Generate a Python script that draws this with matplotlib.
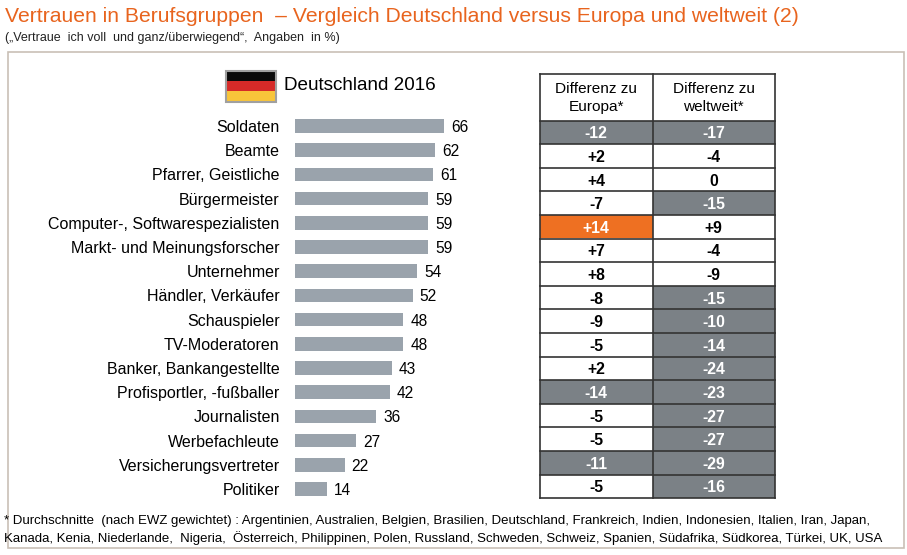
import matplotlib.pyplot as plt
from matplotlib.patches import Rectangle

plt.rcParams['font.family'] = ['Liberation Sans', 'DejaVu Sans']

# data
berufe = ["Soldaten", "Beamte", "Pfarrer, Geistliche", "Bürgermeister",
          "Computer-, Softwarespezialisten", "Markt- und Meinungsforscher",
          "Unternehmer", "Händler, Verkäufer", "Schauspieler", "TV-Moderatoren",
          "Banker, Bankangestellte", "Profisportler, -fußballer", "Journalisten",
          "Werbefachleute", "Versicherungsvertreter", "Politiker"]
vertrauen = [66, 62, 61, 59, 59, 59, 54, 52, 48, 48, 43, 42, 36, 27, 22, 14]
diff_europa = [-12, 2, 4, -7, 14, 7, 8, -8, -9, -5, 2, -14, -5, -5, -11, -5]
diff_welt = [-17, -4, 0, -15, 9, -4, -9, -15, -10, -14, -24, -23, -27, -27, -29, -16]
spalten = ["Differenz zu\nEuropa*", "Differenz zu\nweltweit*"]

W, H = 907, 555
fig = plt.figure(figsize=(W / 100, H / 100), dpi=100)

# overlay axes in pixel coords
bg = fig.add_axes([0, 0, 1, 1])
bg.set_xlim(0, W)
bg.set_ylim(H, 0)
bg.axis('off')

orange = '#E8641E'
bg.text(5, 17, "Vertrauen in Berufsgruppen  – Vergleich Deutschland versus Europa und weltweit (2)",
        fontsize=15.2, color=orange, va='center', ha='left')
bg.text(5, 38, "(„Vertraue  ich voll  und ganz/überwiegend“,  Angaben  in %)",
        fontsize=9.0, color='#222222', va='center', ha='left')
bg.add_patch(Rectangle((8, 52), 896, 496, fill=False, lw=1.2, ec='#C9C0B6'))

# flag
for i, c in enumerate(['#0A0A0A', '#D62A28', '#F8C53A']):
    bg.add_patch(Rectangle((226, 71 + i * 10), 49, 10, fc=c, ec='none'))
bg.add_patch(Rectangle((225.5, 70.5), 50, 31, fill=False, ec='#A0A0A0', lw=1.5))
bg.text(284, 86, "Deutschland 2016", fontsize=13.6, va='center', ha='left')

# bars
top, step = 126, 24.2
n = len(berufe)
ax = fig.add_axes([295 / W, 1 - (top + step * (n - 0.5)) / H, 226 / W, step * n / H])
bars = ax.barh(range(n), vertrauen, height=0.56, color='#9AA3AC')
ax.set_xlim(0, 100)
ax.set_ylim(n - 0.5, -0.5)
ax.set_yticks(range(n))
ax.set_yticklabels(berufe, fontsize=11.5)
ax.tick_params(axis='y', length=0, pad=11)
ax.set_xticks([])
for s in ax.spines.values():
    s.set_visible(False)
for i, v in enumerate(vertrauen):
    ax.annotate(str(v), (v, i), xytext=(5, 0), textcoords='offset points',
                fontsize=11.2, ha='left', va='center_baseline')

# table
tx = [539.5, 653, 774.5]
ty0, head_h, row_h = 73.5, 47, 23.6
for j, name in enumerate(spalten):
    bg.text((tx[j] + tx[j + 1]) / 2, ty0 + head_h / 2 + 1, name, fontsize=11.1,
            ha='center', va='center', linespacing=1.3)
for j, werte in enumerate([diff_europa, diff_welt]):
    for i, v in enumerate(werte):
        y = ty0 + head_h + i * row_h
        if v <= -10:
            fc, tc = '#7B8186', 'white'
        elif v >= 10:
            fc, tc = '#EE7022', 'white'
        else:
            fc, tc = 'white', 'black'
        bg.add_patch(Rectangle((tx[j], y), tx[j + 1] - tx[j], row_h, fc=fc, ec='none'))
        txt = f"+{v}" if v > 0 else str(v)
        bg.text((tx[j] + tx[j + 1]) / 2, y + row_h / 2, txt, fontsize=11.3,
                fontweight='bold', color=tc, ha='center', va='center_baseline')

grid = dict(color='#333333', lw=1.2)
y_end = ty0 + head_h + n * row_h
for x in tx:
    bg.plot([x, x], [ty0, y_end], **grid)
bg.plot([tx[0], tx[-1]], [ty0, ty0], **grid)
for i in range(n + 1):
    y = ty0 + head_h + i * row_h
    bg.plot([tx[0], tx[-1]], [y, y], **grid)

# footnote
fn = ["* Durchschnitte  (nach EWZ gewichtet) : Argentinien, Australien, Belgien, Brasilien, Deutschland, Frankreich, Indien, Indonesien, Italien, Iran, Japan,",
      "Kanada, Kenia, Niederlande,  Nigeria,  Österreich, Philippinen, Polen, Russland, Schweden, Schweiz, Spanien, Südafrika, Südkorea, Türkei, UK, USA"]
for k, line in enumerate(fn):
    bg.text(4, 521 + k * 17, line, fontsize=9.5, va='center', ha='left')

fig.savefig("out.png", dpi=100)
